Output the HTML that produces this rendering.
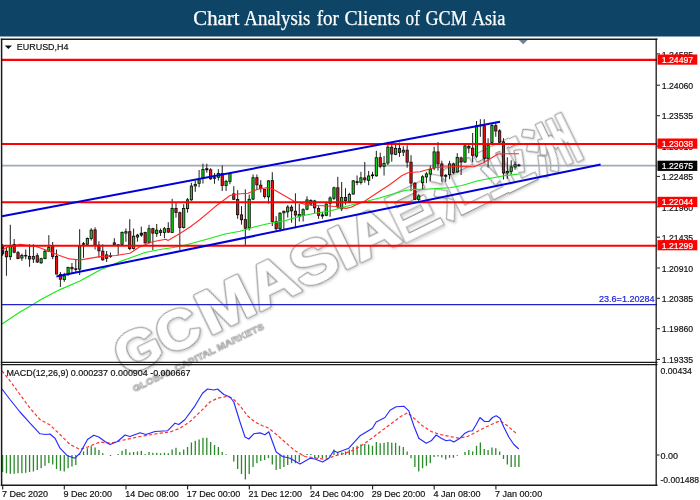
<!DOCTYPE html>
<html lang="en"><head><meta charset="utf-8"><title>Chart Analysis for Clients of GCM Asia</title>
<style>html,body{margin:0;padding:0;background:#fff;}body{width:700px;height:500px;overflow:hidden;}svg{display:block;}.t{font-family:"Liberation Sans",sans-serif;font-size:9px;fill:#111;stroke:#111;stroke-width:0.18px;}.h{font-family:"Liberation Serif",serif;font-size:20px;fill:#fff;}.w{font-family:"Liberation Sans","Noto Sans CJK SC",sans-serif;}</style></head><body>
<svg width="700" height="500" viewBox="0 0 700 500">
<defs><filter id="b" x="-5%" y="-5%" width="110%" height="110%"><feGaussianBlur stdDeviation="0.35"/></filter><filter id="b2" x="-5%" y="-5%" width="110%" height="110%"><feGaussianBlur stdDeviation="0.5"/></filter><filter id="b3" x="-5%" y="-5%" width="110%" height="110%"><feGaussianBlur stdDeviation="1.1"/></filter><clipPath id="cp"><rect x="2.3" y="40" width="654" height="322"/></clipPath></defs>
<rect x="0" y="0" width="700" height="500" fill="#fff"/>
<g class="w" filter="url(#b3)" transform="translate(124,378.7) rotate(-26)" fill="none" stroke="#d9d9d9" stroke-linejoin="round" font-weight="bold"><g stroke-width="4.6"><text y="0"><tspan x="3" font-size="55" textLength="88" lengthAdjust="spacingAndGlyphs">GC</tspan><tspan x="96" font-size="61" textLength="216" lengthAdjust="spacingAndGlyphs">MASIA</tspan></text></g><g stroke-width="2.8"><text x="307" y="-0.5" font-size="56" textLength="206" lengthAdjust="spacingAndGlyphs">巨汇亚洲</text></g></g>
<g class="w" filter="url(#b2)" transform="translate(123,377.7) rotate(-26)" stroke-linejoin="round" font-weight="bold"><g fill="none" stroke="#9a9a9a" stroke-width="3.5"><text y="0"><tspan x="3" font-size="55" textLength="88" lengthAdjust="spacingAndGlyphs">GC</tspan><tspan x="96" font-size="61" textLength="216" lengthAdjust="spacingAndGlyphs">MASIA</tspan></text></g><g fill="#fff" stroke="#fff" stroke-width="1.3"><text y="0"><tspan x="3" font-size="55" textLength="88" lengthAdjust="spacingAndGlyphs">GC</tspan><tspan x="96" font-size="61" textLength="216" lengthAdjust="spacingAndGlyphs">MASIA</tspan></text></g><g fill="none" stroke="#939393" stroke-width="2.4"><text x="307" y="-0.5" font-size="56" textLength="206" lengthAdjust="spacingAndGlyphs">巨汇亚洲</text></g><g fill="#fff" stroke="#fff" stroke-width="0.2"><text x="307" y="-0.5" font-size="56" textLength="206" lengthAdjust="spacingAndGlyphs">巨汇亚洲</text></g></g>
<g class="w" filter="url(#b)" transform="translate(123,377.7) rotate(-26)" fill="#ffffff" stroke="#acacac" stroke-width="0.9" stroke-linejoin="round" font-weight="bold"><text x="4" y="18" font-size="9.5" textLength="145" lengthAdjust="spacingAndGlyphs">GLOBAL CAPITAL MARKETS</text></g>
<rect x="0" y="0" width="700" height="36.5" fill="#0e4466"/>
<text class="h" y="24.9" stroke="#fff" stroke-width="0.25"><tspan x="193.3" textLength="46.1" lengthAdjust="spacingAndGlyphs">Chart</tspan> <tspan x="244.3" textLength="66.1" lengthAdjust="spacingAndGlyphs">Analysis</tspan> <tspan x="316.7" textLength="22.2" lengthAdjust="spacingAndGlyphs">for</tspan> <tspan x="344.4" textLength="55.9" lengthAdjust="spacingAndGlyphs">Clients</tspan> <tspan x="405.6" textLength="14.3" lengthAdjust="spacingAndGlyphs">of</tspan> <tspan x="425.5" textLength="41.3" lengthAdjust="spacingAndGlyphs">GCM</tspan> <tspan x="471.7" textLength="33.7" lengthAdjust="spacingAndGlyphs">Asia</tspan></text>
<g filter="url(#b)">
<line x1="2" y1="165.6" x2="657" y2="165.6" stroke="#a0abb7" stroke-width="1.6"/>
<line x1="2.60" y1="244.0" x2="2.60" y2="256.0" stroke="#151515" stroke-width="0.95"/>
<rect x="1.48" y="246.2" width="2.24" height="7.6" fill="#111" stroke="#0c0c0c" stroke-width="0.85"/>
<line x1="6.45" y1="247.3" x2="6.45" y2="275.8" stroke="#151515" stroke-width="0.95"/>
<rect x="5.33" y="251.2" width="2.24" height="5.6" fill="#f20a0a" stroke="#0c0c0c" stroke-width="0.85"/>
<line x1="10.31" y1="224.8" x2="10.31" y2="260.0" stroke="#151515" stroke-width="0.95"/>
<rect x="9.19" y="245.9" width="2.24" height="10.8" fill="#08d808" stroke="#0c0c0c" stroke-width="0.85"/>
<line x1="14.16" y1="239.0" x2="14.16" y2="253.2" stroke="#151515" stroke-width="0.95"/>
<rect x="13.04" y="244.4" width="2.24" height="7.8" fill="#f20a0a" stroke="#0c0c0c" stroke-width="0.85"/>
<line x1="18.01" y1="251.0" x2="18.01" y2="259.2" stroke="#151515" stroke-width="0.95"/>
<rect x="16.89" y="252.7" width="2.24" height="5.9" fill="#f20a0a" stroke="#0c0c0c" stroke-width="0.85"/>
<line x1="21.87" y1="253.7" x2="21.87" y2="260.8" stroke="#151515" stroke-width="0.95"/>
<rect x="20.75" y="255.4" width="2.24" height="2.6" fill="#08d808" stroke="#0c0c0c" stroke-width="0.85"/>
<line x1="25.72" y1="249.5" x2="25.72" y2="259.2" stroke="#151515" stroke-width="0.95"/>
<rect x="24.60" y="255.4" width="2.24" height="0.6" fill="#111" stroke="#0c0c0c" stroke-width="0.85"/>
<line x1="29.57" y1="244.2" x2="29.57" y2="266.8" stroke="#151515" stroke-width="0.95"/>
<rect x="28.45" y="256.4" width="2.24" height="2.6" fill="#f20a0a" stroke="#0c0c0c" stroke-width="0.85"/>
<line x1="33.42" y1="244.2" x2="33.42" y2="263.0" stroke="#151515" stroke-width="0.95"/>
<rect x="32.30" y="256.4" width="2.24" height="2.6" fill="#08d808" stroke="#0c0c0c" stroke-width="0.85"/>
<line x1="37.28" y1="253.2" x2="37.28" y2="263.0" stroke="#151515" stroke-width="0.95"/>
<rect x="36.16" y="255.7" width="2.24" height="6.3" fill="#f20a0a" stroke="#0c0c0c" stroke-width="0.85"/>
<line x1="41.13" y1="257.8" x2="41.13" y2="263.8" stroke="#151515" stroke-width="0.95"/>
<rect x="40.01" y="258.7" width="2.24" height="4.1" fill="#08d808" stroke="#0c0c0c" stroke-width="0.85"/>
<line x1="44.98" y1="249.5" x2="44.98" y2="259.2" stroke="#151515" stroke-width="0.95"/>
<rect x="43.86" y="251.2" width="2.24" height="7.4" fill="#08d808" stroke="#0c0c0c" stroke-width="0.85"/>
<line x1="48.84" y1="235.2" x2="48.84" y2="251.8" stroke="#151515" stroke-width="0.95"/>
<rect x="47.72" y="247.4" width="2.24" height="3.9" fill="#08d808" stroke="#0c0c0c" stroke-width="0.85"/>
<line x1="52.69" y1="242.0" x2="52.69" y2="259.2" stroke="#151515" stroke-width="0.95"/>
<rect x="51.57" y="246.7" width="2.24" height="9.8" fill="#f20a0a" stroke="#0c0c0c" stroke-width="0.85"/>
<line x1="56.54" y1="249.5" x2="56.54" y2="274.2" stroke="#151515" stroke-width="0.95"/>
<rect x="55.42" y="256.4" width="2.24" height="17.6" fill="#f20a0a" stroke="#0c0c0c" stroke-width="0.85"/>
<line x1="60.40" y1="272.0" x2="60.40" y2="287.0" stroke="#151515" stroke-width="0.95"/>
<rect x="59.28" y="274.4" width="2.24" height="4.8" fill="#f20a0a" stroke="#0c0c0c" stroke-width="0.85"/>
<line x1="64.25" y1="272.8" x2="64.25" y2="281.8" stroke="#151515" stroke-width="0.95"/>
<rect x="63.13" y="275.9" width="2.24" height="3.7" fill="#08d808" stroke="#0c0c0c" stroke-width="0.85"/>
<line x1="68.10" y1="266.8" x2="68.10" y2="275.8" stroke="#151515" stroke-width="0.95"/>
<rect x="66.98" y="267.4" width="2.24" height="6.7" fill="#08d808" stroke="#0c0c0c" stroke-width="0.85"/>
<line x1="71.95" y1="263.0" x2="71.95" y2="273.5" stroke="#151515" stroke-width="0.95"/>
<rect x="70.83" y="267.4" width="2.24" height="1.4" fill="#f20a0a" stroke="#0c0c0c" stroke-width="0.85"/>
<line x1="75.81" y1="259.2" x2="75.81" y2="272.0" stroke="#151515" stroke-width="0.95"/>
<rect x="74.69" y="268.8" width="2.24" height="0.6" fill="#111" stroke="#0c0c0c" stroke-width="0.85"/>
<line x1="79.66" y1="229.2" x2="79.66" y2="275.0" stroke="#151515" stroke-width="0.95"/>
<rect x="78.54" y="246.7" width="2.24" height="22.4" fill="#08d808" stroke="#0c0c0c" stroke-width="0.85"/>
<line x1="83.51" y1="242.0" x2="83.51" y2="257.8" stroke="#151515" stroke-width="0.95"/>
<rect x="82.39" y="243.7" width="2.24" height="0.6" fill="#111" stroke="#0c0c0c" stroke-width="0.85"/>
<line x1="87.37" y1="237.5" x2="87.37" y2="245.0" stroke="#151515" stroke-width="0.95"/>
<rect x="86.25" y="238.4" width="2.24" height="5.8" fill="#08d808" stroke="#0c0c0c" stroke-width="0.85"/>
<line x1="91.22" y1="228.2" x2="91.22" y2="240.5" stroke="#151515" stroke-width="0.95"/>
<rect x="90.10" y="230.2" width="2.24" height="8.3" fill="#08d808" stroke="#0c0c0c" stroke-width="0.85"/>
<line x1="95.07" y1="227.3" x2="95.07" y2="249.5" stroke="#151515" stroke-width="0.95"/>
<rect x="93.95" y="229.9" width="2.24" height="14.9" fill="#f20a0a" stroke="#0c0c0c" stroke-width="0.85"/>
<line x1="98.92" y1="241.2" x2="98.92" y2="257.8" stroke="#151515" stroke-width="0.95"/>
<rect x="97.80" y="245.2" width="2.24" height="5.6" fill="#f20a0a" stroke="#0c0c0c" stroke-width="0.85"/>
<line x1="102.78" y1="244.2" x2="102.78" y2="260.8" stroke="#151515" stroke-width="0.95"/>
<rect x="101.66" y="251.2" width="2.24" height="8.6" fill="#f20a0a" stroke="#0c0c0c" stroke-width="0.85"/>
<line x1="106.63" y1="251.0" x2="106.63" y2="262.0" stroke="#151515" stroke-width="0.95"/>
<rect x="105.51" y="254.9" width="2.24" height="3.4" fill="#f20a0a" stroke="#0c0c0c" stroke-width="0.85"/>
<line x1="110.48" y1="252.5" x2="110.48" y2="257.8" stroke="#151515" stroke-width="0.95"/>
<rect x="109.36" y="255.7" width="2.24" height="0.8" fill="#111" stroke="#0c0c0c" stroke-width="0.85"/>
<line x1="114.34" y1="238.2" x2="114.34" y2="245.0" stroke="#151515" stroke-width="0.95"/>
<rect x="113.22" y="242.9" width="2.24" height="1.5" fill="#f20a0a" stroke="#0c0c0c" stroke-width="0.85"/>
<line x1="118.19" y1="244.2" x2="118.19" y2="254.8" stroke="#151515" stroke-width="0.95"/>
<rect x="117.07" y="244.8" width="2.24" height="0.6" fill="#111" stroke="#0c0c0c" stroke-width="0.85"/>
<line x1="122.04" y1="231.5" x2="122.04" y2="245.0" stroke="#151515" stroke-width="0.95"/>
<rect x="120.92" y="232.4" width="2.24" height="12.0" fill="#08d808" stroke="#0c0c0c" stroke-width="0.85"/>
<line x1="125.90" y1="228.5" x2="125.90" y2="241.7" stroke="#151515" stroke-width="0.95"/>
<rect x="124.78" y="231.7" width="2.24" height="1.4" fill="#08d808" stroke="#0c0c0c" stroke-width="0.85"/>
<line x1="129.75" y1="219.2" x2="129.75" y2="250.2" stroke="#151515" stroke-width="0.95"/>
<rect x="128.63" y="231.7" width="2.24" height="16.9" fill="#f20a0a" stroke="#0c0c0c" stroke-width="0.85"/>
<line x1="133.60" y1="228.5" x2="133.60" y2="249.5" stroke="#151515" stroke-width="0.95"/>
<rect x="132.48" y="236.2" width="2.24" height="12.3" fill="#08d808" stroke="#0c0c0c" stroke-width="0.85"/>
<line x1="137.46" y1="233.8" x2="137.46" y2="241.7" stroke="#151515" stroke-width="0.95"/>
<rect x="136.34" y="235.2" width="2.24" height="1.8" fill="#08d808" stroke="#0c0c0c" stroke-width="0.85"/>
<line x1="141.31" y1="226.7" x2="141.31" y2="236.8" stroke="#151515" stroke-width="0.95"/>
<rect x="140.19" y="233.2" width="2.24" height="1.9" fill="#111" stroke="#0c0c0c" stroke-width="0.85"/>
<line x1="145.16" y1="231.8" x2="145.16" y2="243.5" stroke="#151515" stroke-width="0.95"/>
<rect x="144.04" y="232.4" width="2.24" height="10.5" fill="#f20a0a" stroke="#0c0c0c" stroke-width="0.85"/>
<line x1="149.01" y1="224.8" x2="149.01" y2="242.8" stroke="#151515" stroke-width="0.95"/>
<rect x="147.89" y="228.7" width="2.24" height="13.6" fill="#08d808" stroke="#0c0c0c" stroke-width="0.85"/>
<line x1="152.87" y1="227.8" x2="152.87" y2="250.2" stroke="#151515" stroke-width="0.95"/>
<rect x="151.75" y="228.7" width="2.24" height="4.4" fill="#f20a0a" stroke="#0c0c0c" stroke-width="0.85"/>
<line x1="156.72" y1="224.0" x2="156.72" y2="236.8" stroke="#151515" stroke-width="0.95"/>
<rect x="155.60" y="230.2" width="2.24" height="3.4" fill="#08d808" stroke="#0c0c0c" stroke-width="0.85"/>
<line x1="160.57" y1="228.5" x2="160.57" y2="236.0" stroke="#151515" stroke-width="0.95"/>
<rect x="159.45" y="230.7" width="2.24" height="1.8" fill="#f20a0a" stroke="#0c0c0c" stroke-width="0.85"/>
<line x1="164.43" y1="227.0" x2="164.43" y2="238.2" stroke="#151515" stroke-width="0.95"/>
<rect x="163.31" y="228.7" width="2.24" height="3.8" fill="#08d808" stroke="#0c0c0c" stroke-width="0.85"/>
<line x1="168.28" y1="222.2" x2="168.28" y2="233.0" stroke="#151515" stroke-width="0.95"/>
<rect x="167.16" y="228.4" width="2.24" height="3.7" fill="#f20a0a" stroke="#0c0c0c" stroke-width="0.85"/>
<line x1="172.13" y1="198.8" x2="172.13" y2="233.0" stroke="#151515" stroke-width="0.95"/>
<rect x="171.01" y="208.4" width="2.24" height="24.0" fill="#08d808" stroke="#0c0c0c" stroke-width="0.85"/>
<line x1="175.99" y1="203.0" x2="175.99" y2="217.7" stroke="#151515" stroke-width="0.95"/>
<rect x="174.87" y="208.4" width="2.24" height="4.1" fill="#f20a0a" stroke="#0c0c0c" stroke-width="0.85"/>
<line x1="179.84" y1="211.7" x2="179.84" y2="249.8" stroke="#151515" stroke-width="0.95"/>
<rect x="178.72" y="212.7" width="2.24" height="14.8" fill="#f20a0a" stroke="#0c0c0c" stroke-width="0.85"/>
<line x1="183.69" y1="204.2" x2="183.69" y2="228.5" stroke="#151515" stroke-width="0.95"/>
<rect x="182.57" y="208.4" width="2.24" height="19.1" fill="#08d808" stroke="#0c0c0c" stroke-width="0.85"/>
<line x1="187.54" y1="198.0" x2="187.54" y2="212.6" stroke="#151515" stroke-width="0.95"/>
<rect x="186.42" y="199.8" width="2.24" height="8.8" fill="#08d808" stroke="#0c0c0c" stroke-width="0.85"/>
<line x1="191.40" y1="182.8" x2="191.40" y2="200.8" stroke="#151515" stroke-width="0.95"/>
<rect x="190.28" y="186.1" width="2.24" height="13.7" fill="#08d808" stroke="#0c0c0c" stroke-width="0.85"/>
<line x1="195.25" y1="180.5" x2="195.25" y2="191.8" stroke="#151515" stroke-width="0.95"/>
<rect x="194.13" y="184.4" width="2.24" height="1.5" fill="#08d808" stroke="#0c0c0c" stroke-width="0.85"/>
<line x1="199.10" y1="170.0" x2="199.10" y2="187.2" stroke="#151515" stroke-width="0.95"/>
<rect x="197.98" y="179.9" width="2.24" height="3.4" fill="#08d808" stroke="#0c0c0c" stroke-width="0.85"/>
<line x1="202.96" y1="163.7" x2="202.96" y2="183.5" stroke="#151515" stroke-width="0.95"/>
<rect x="201.84" y="169.4" width="2.24" height="8.6" fill="#08d808" stroke="#0c0c0c" stroke-width="0.85"/>
<line x1="206.81" y1="163.7" x2="206.81" y2="172.7" stroke="#151515" stroke-width="0.95"/>
<rect x="205.69" y="168.7" width="2.24" height="1.1" fill="#111" stroke="#0c0c0c" stroke-width="0.85"/>
<line x1="210.66" y1="168.2" x2="210.66" y2="179.8" stroke="#151515" stroke-width="0.95"/>
<rect x="209.54" y="169.9" width="2.24" height="8.9" fill="#f20a0a" stroke="#0c0c0c" stroke-width="0.85"/>
<line x1="214.52" y1="173.0" x2="214.52" y2="183.8" stroke="#151515" stroke-width="0.95"/>
<rect x="213.40" y="177.7" width="2.24" height="0.6" fill="#111" stroke="#0c0c0c" stroke-width="0.85"/>
<line x1="218.37" y1="169.2" x2="218.37" y2="180.5" stroke="#151515" stroke-width="0.95"/>
<rect x="217.25" y="173.5" width="2.24" height="3.8" fill="#08d808" stroke="#0c0c0c" stroke-width="0.85"/>
<line x1="222.22" y1="165.5" x2="222.22" y2="191.0" stroke="#151515" stroke-width="0.95"/>
<rect x="221.10" y="173.5" width="2.24" height="12.0" fill="#f20a0a" stroke="#0c0c0c" stroke-width="0.85"/>
<line x1="226.07" y1="179.8" x2="226.07" y2="191.0" stroke="#151515" stroke-width="0.95"/>
<rect x="224.95" y="181.4" width="2.24" height="4.1" fill="#08d808" stroke="#0c0c0c" stroke-width="0.85"/>
<line x1="229.93" y1="172.7" x2="229.93" y2="184.2" stroke="#151515" stroke-width="0.95"/>
<rect x="228.81" y="173.5" width="2.24" height="8.0" fill="#08d808" stroke="#0c0c0c" stroke-width="0.85"/>
<line x1="233.78" y1="186.2" x2="233.78" y2="200.0" stroke="#151515" stroke-width="0.95"/>
<rect x="232.66" y="193.9" width="2.24" height="5.4" fill="#f20a0a" stroke="#0c0c0c" stroke-width="0.85"/>
<line x1="237.63" y1="190.2" x2="237.63" y2="218.8" stroke="#151515" stroke-width="0.95"/>
<rect x="236.51" y="199.4" width="2.24" height="15.3" fill="#f20a0a" stroke="#0c0c0c" stroke-width="0.85"/>
<line x1="241.49" y1="206.1" x2="241.49" y2="224.6" stroke="#151515" stroke-width="0.95"/>
<rect x="240.37" y="214.9" width="2.24" height="4.8" fill="#f20a0a" stroke="#0c0c0c" stroke-width="0.85"/>
<line x1="245.34" y1="189.4" x2="245.34" y2="245.5" stroke="#151515" stroke-width="0.95"/>
<rect x="244.22" y="219.6" width="2.24" height="8.6" fill="#f20a0a" stroke="#0c0c0c" stroke-width="0.85"/>
<line x1="249.19" y1="194.6" x2="249.19" y2="230.5" stroke="#151515" stroke-width="0.95"/>
<rect x="248.07" y="199.3" width="2.24" height="28.6" fill="#08d808" stroke="#0c0c0c" stroke-width="0.85"/>
<line x1="253.05" y1="174.5" x2="253.05" y2="200.0" stroke="#151515" stroke-width="0.95"/>
<rect x="251.93" y="177.7" width="2.24" height="21.4" fill="#08d808" stroke="#0c0c0c" stroke-width="0.85"/>
<line x1="256.90" y1="174.5" x2="256.90" y2="189.5" stroke="#151515" stroke-width="0.95"/>
<rect x="255.78" y="177.7" width="2.24" height="7.1" fill="#f20a0a" stroke="#0c0c0c" stroke-width="0.85"/>
<line x1="260.75" y1="180.2" x2="260.75" y2="192.5" stroke="#151515" stroke-width="0.95"/>
<rect x="259.63" y="185.2" width="2.24" height="3.4" fill="#f20a0a" stroke="#0c0c0c" stroke-width="0.85"/>
<line x1="264.60" y1="188.8" x2="264.60" y2="198.5" stroke="#151515" stroke-width="0.95"/>
<rect x="263.48" y="189.4" width="2.24" height="7.1" fill="#f20a0a" stroke="#0c0c0c" stroke-width="0.85"/>
<line x1="268.46" y1="180.2" x2="268.46" y2="203.6" stroke="#151515" stroke-width="0.95"/>
<rect x="267.34" y="180.9" width="2.24" height="15.9" fill="#08d808" stroke="#0c0c0c" stroke-width="0.85"/>
<line x1="272.31" y1="172.2" x2="272.31" y2="226.1" stroke="#151515" stroke-width="0.95"/>
<rect x="271.19" y="180.6" width="2.24" height="40.8" fill="#f20a0a" stroke="#0c0c0c" stroke-width="0.85"/>
<line x1="276.16" y1="216.2" x2="276.16" y2="230.6" stroke="#151515" stroke-width="0.95"/>
<rect x="275.04" y="221.6" width="2.24" height="7.1" fill="#f20a0a" stroke="#0c0c0c" stroke-width="0.85"/>
<line x1="280.02" y1="212.2" x2="280.02" y2="231.5" stroke="#151515" stroke-width="0.95"/>
<rect x="278.90" y="213.2" width="2.24" height="15.5" fill="#08d808" stroke="#0c0c0c" stroke-width="0.85"/>
<line x1="283.87" y1="210.6" x2="283.87" y2="229.9" stroke="#151515" stroke-width="0.95"/>
<rect x="282.75" y="211.3" width="2.24" height="1.5" fill="#08d808" stroke="#0c0c0c" stroke-width="0.85"/>
<line x1="287.72" y1="205.1" x2="287.72" y2="217.5" stroke="#151515" stroke-width="0.95"/>
<rect x="286.60" y="207.1" width="2.24" height="4.8" fill="#08d808" stroke="#0c0c0c" stroke-width="0.85"/>
<line x1="291.58" y1="205.0" x2="291.58" y2="222.7" stroke="#151515" stroke-width="0.95"/>
<rect x="290.46" y="207.2" width="2.24" height="3.6" fill="#f20a0a" stroke="#0c0c0c" stroke-width="0.85"/>
<line x1="295.43" y1="193.3" x2="295.43" y2="228.2" stroke="#151515" stroke-width="0.95"/>
<rect x="294.31" y="211.2" width="2.24" height="3.8" fill="#f20a0a" stroke="#0c0c0c" stroke-width="0.85"/>
<line x1="299.28" y1="203.8" x2="299.28" y2="221.5" stroke="#151515" stroke-width="0.95"/>
<rect x="298.16" y="214.5" width="2.24" height="2.0" fill="#f20a0a" stroke="#0c0c0c" stroke-width="0.85"/>
<line x1="303.13" y1="208.3" x2="303.13" y2="221.5" stroke="#151515" stroke-width="0.95"/>
<rect x="302.01" y="209.7" width="2.24" height="5.9" fill="#08d808" stroke="#0c0c0c" stroke-width="0.85"/>
<line x1="306.99" y1="196.3" x2="306.99" y2="210.2" stroke="#151515" stroke-width="0.95"/>
<rect x="305.87" y="199.9" width="2.24" height="9.3" fill="#08d808" stroke="#0c0c0c" stroke-width="0.85"/>
<line x1="310.84" y1="199.3" x2="310.84" y2="205.0" stroke="#151515" stroke-width="0.95"/>
<rect x="309.72" y="200.4" width="2.24" height="3.7" fill="#08d808" stroke="#0c0c0c" stroke-width="0.85"/>
<line x1="314.69" y1="199.8" x2="314.69" y2="213.2" stroke="#151515" stroke-width="0.95"/>
<rect x="313.57" y="201.0" width="2.24" height="6.8" fill="#f20a0a" stroke="#0c0c0c" stroke-width="0.85"/>
<line x1="318.55" y1="206.2" x2="318.55" y2="218.8" stroke="#151515" stroke-width="0.95"/>
<rect x="317.43" y="208.5" width="2.24" height="6.8" fill="#f20a0a" stroke="#0c0c0c" stroke-width="0.85"/>
<line x1="322.40" y1="211.8" x2="322.40" y2="218.8" stroke="#151515" stroke-width="0.95"/>
<rect x="321.28" y="214.9" width="2.24" height="1.1" fill="#111" stroke="#0c0c0c" stroke-width="0.85"/>
<line x1="326.25" y1="203.2" x2="326.25" y2="216.2" stroke="#151515" stroke-width="0.95"/>
<rect x="325.13" y="204.0" width="2.24" height="11.3" fill="#08d808" stroke="#0c0c0c" stroke-width="0.85"/>
<line x1="330.11" y1="196.3" x2="330.11" y2="216.7" stroke="#151515" stroke-width="0.95"/>
<rect x="328.99" y="198.0" width="2.24" height="5.3" fill="#08d808" stroke="#0c0c0c" stroke-width="0.85"/>
<line x1="333.96" y1="186.7" x2="333.96" y2="200.0" stroke="#151515" stroke-width="0.95"/>
<rect x="332.84" y="187.8" width="2.24" height="10.5" fill="#08d808" stroke="#0c0c0c" stroke-width="0.85"/>
<line x1="337.81" y1="176.8" x2="337.81" y2="208.6" stroke="#151515" stroke-width="0.95"/>
<rect x="336.69" y="187.8" width="2.24" height="19.1" fill="#f20a0a" stroke="#0c0c0c" stroke-width="0.85"/>
<line x1="341.66" y1="182.0" x2="341.66" y2="211.0" stroke="#151515" stroke-width="0.95"/>
<rect x="340.54" y="197.6" width="2.24" height="11.2" fill="#08d808" stroke="#0c0c0c" stroke-width="0.85"/>
<line x1="345.52" y1="188.2" x2="345.52" y2="204.8" stroke="#151515" stroke-width="0.95"/>
<rect x="344.40" y="197.4" width="2.24" height="3.4" fill="#f20a0a" stroke="#0c0c0c" stroke-width="0.85"/>
<line x1="349.37" y1="192.8" x2="349.37" y2="203.2" stroke="#151515" stroke-width="0.95"/>
<rect x="348.25" y="194.4" width="2.24" height="7.1" fill="#08d808" stroke="#0c0c0c" stroke-width="0.85"/>
<line x1="353.22" y1="180.0" x2="353.22" y2="194.7" stroke="#151515" stroke-width="0.95"/>
<rect x="352.10" y="180.9" width="2.24" height="13.1" fill="#08d808" stroke="#0c0c0c" stroke-width="0.85"/>
<line x1="357.08" y1="175.5" x2="357.08" y2="185.2" stroke="#151515" stroke-width="0.95"/>
<rect x="355.96" y="181.7" width="2.24" height="0.8" fill="#111" stroke="#0c0c0c" stroke-width="0.85"/>
<line x1="360.93" y1="171.8" x2="360.93" y2="184.5" stroke="#151515" stroke-width="0.95"/>
<rect x="359.81" y="177.9" width="2.24" height="4.5" fill="#08d808" stroke="#0c0c0c" stroke-width="0.85"/>
<line x1="364.78" y1="162.0" x2="364.78" y2="182.7" stroke="#151515" stroke-width="0.95"/>
<rect x="363.66" y="177.9" width="2.24" height="1.9" fill="#f20a0a" stroke="#0c0c0c" stroke-width="0.85"/>
<line x1="368.64" y1="171.0" x2="368.64" y2="185.2" stroke="#151515" stroke-width="0.95"/>
<rect x="367.52" y="176.0" width="2.24" height="4.3" fill="#08d808" stroke="#0c0c0c" stroke-width="0.85"/>
<line x1="372.49" y1="171.8" x2="372.49" y2="178.8" stroke="#151515" stroke-width="0.95"/>
<rect x="371.37" y="174.9" width="2.24" height="0.8" fill="#111" stroke="#0c0c0c" stroke-width="0.85"/>
<line x1="376.34" y1="150.8" x2="376.34" y2="176.7" stroke="#151515" stroke-width="0.95"/>
<rect x="375.22" y="157.7" width="2.24" height="18.1" fill="#08d808" stroke="#0c0c0c" stroke-width="0.85"/>
<line x1="380.19" y1="152.7" x2="380.19" y2="168.3" stroke="#151515" stroke-width="0.95"/>
<rect x="379.07" y="157.7" width="2.24" height="8.6" fill="#f20a0a" stroke="#0c0c0c" stroke-width="0.85"/>
<line x1="384.05" y1="156.0" x2="384.05" y2="175.5" stroke="#151515" stroke-width="0.95"/>
<rect x="382.93" y="163.4" width="2.24" height="2.9" fill="#08d808" stroke="#0c0c0c" stroke-width="0.85"/>
<line x1="387.90" y1="141.8" x2="387.90" y2="165.0" stroke="#151515" stroke-width="0.95"/>
<rect x="386.78" y="147.2" width="2.24" height="15.8" fill="#08d808" stroke="#0c0c0c" stroke-width="0.85"/>
<line x1="391.75" y1="144.8" x2="391.75" y2="161.7" stroke="#151515" stroke-width="0.95"/>
<rect x="390.63" y="147.2" width="2.24" height="6.8" fill="#f20a0a" stroke="#0c0c0c" stroke-width="0.85"/>
<line x1="395.61" y1="143.2" x2="395.61" y2="155.2" stroke="#151515" stroke-width="0.95"/>
<rect x="394.49" y="148.4" width="2.24" height="5.9" fill="#08d808" stroke="#0c0c0c" stroke-width="0.85"/>
<line x1="399.46" y1="142.5" x2="399.46" y2="156.8" stroke="#151515" stroke-width="0.95"/>
<rect x="398.34" y="148.4" width="2.24" height="4.1" fill="#f20a0a" stroke="#0c0c0c" stroke-width="0.85"/>
<line x1="403.31" y1="146.2" x2="403.31" y2="156.0" stroke="#151515" stroke-width="0.95"/>
<rect x="402.19" y="150.2" width="2.24" height="1.9" fill="#08d808" stroke="#0c0c0c" stroke-width="0.85"/>
<line x1="407.17" y1="145.2" x2="407.17" y2="167.7" stroke="#151515" stroke-width="0.95"/>
<rect x="406.05" y="150.2" width="2.24" height="11.9" fill="#f20a0a" stroke="#0c0c0c" stroke-width="0.85"/>
<line x1="411.02" y1="155.2" x2="411.02" y2="191.2" stroke="#151515" stroke-width="0.95"/>
<rect x="409.90" y="162.2" width="2.24" height="20.9" fill="#f20a0a" stroke="#0c0c0c" stroke-width="0.85"/>
<line x1="414.87" y1="182.2" x2="414.87" y2="200.2" stroke="#151515" stroke-width="0.95"/>
<rect x="413.75" y="183.2" width="2.24" height="16.1" fill="#f20a0a" stroke="#0c0c0c" stroke-width="0.85"/>
<line x1="418.72" y1="194.2" x2="418.72" y2="201.0" stroke="#151515" stroke-width="0.95"/>
<rect x="417.60" y="195.9" width="2.24" height="3.7" fill="#08d808" stroke="#0c0c0c" stroke-width="0.85"/>
<line x1="422.58" y1="175.2" x2="422.58" y2="190.0" stroke="#151515" stroke-width="0.95"/>
<rect x="421.46" y="176.8" width="2.24" height="5.9" fill="#08d808" stroke="#0c0c0c" stroke-width="0.85"/>
<line x1="426.43" y1="172.2" x2="426.43" y2="183.1" stroke="#151515" stroke-width="0.95"/>
<rect x="425.31" y="173.9" width="2.24" height="3.0" fill="#08d808" stroke="#0c0c0c" stroke-width="0.85"/>
<line x1="430.28" y1="165.5" x2="430.28" y2="180.9" stroke="#151515" stroke-width="0.95"/>
<rect x="429.16" y="169.3" width="2.24" height="4.8" fill="#08d808" stroke="#0c0c0c" stroke-width="0.85"/>
<line x1="434.14" y1="146.8" x2="434.14" y2="170.2" stroke="#151515" stroke-width="0.95"/>
<rect x="433.02" y="151.9" width="2.24" height="16.1" fill="#08d808" stroke="#0c0c0c" stroke-width="0.85"/>
<line x1="437.99" y1="142.0" x2="437.99" y2="170.5" stroke="#151515" stroke-width="0.95"/>
<rect x="436.87" y="151.9" width="2.24" height="12.0" fill="#f20a0a" stroke="#0c0c0c" stroke-width="0.85"/>
<line x1="441.84" y1="160.8" x2="441.84" y2="181.8" stroke="#151515" stroke-width="0.95"/>
<rect x="440.72" y="163.9" width="2.24" height="12.0" fill="#f20a0a" stroke="#0c0c0c" stroke-width="0.85"/>
<line x1="445.70" y1="174.2" x2="445.70" y2="181.8" stroke="#151515" stroke-width="0.95"/>
<rect x="444.58" y="175.2" width="2.24" height="1.1" fill="#111" stroke="#0c0c0c" stroke-width="0.85"/>
<line x1="449.55" y1="160.8" x2="449.55" y2="179.2" stroke="#151515" stroke-width="0.95"/>
<rect x="448.43" y="163.9" width="2.24" height="10.8" fill="#08d808" stroke="#0c0c0c" stroke-width="0.85"/>
<line x1="453.40" y1="162.7" x2="453.40" y2="174.2" stroke="#151515" stroke-width="0.95"/>
<rect x="452.28" y="163.9" width="2.24" height="8.6" fill="#f20a0a" stroke="#0c0c0c" stroke-width="0.85"/>
<line x1="457.25" y1="153.2" x2="457.25" y2="172.8" stroke="#151515" stroke-width="0.95"/>
<rect x="456.13" y="157.5" width="2.24" height="14.3" fill="#08d808" stroke="#0c0c0c" stroke-width="0.85"/>
<line x1="461.11" y1="156.7" x2="461.11" y2="175.0" stroke="#151515" stroke-width="0.95"/>
<rect x="459.99" y="157.9" width="2.24" height="4.1" fill="#f20a0a" stroke="#0c0c0c" stroke-width="0.85"/>
<line x1="464.96" y1="145.0" x2="464.96" y2="163.0" stroke="#151515" stroke-width="0.95"/>
<rect x="463.84" y="145.9" width="2.24" height="16.1" fill="#08d808" stroke="#0c0c0c" stroke-width="0.85"/>
<line x1="468.81" y1="145.0" x2="468.81" y2="153.2" stroke="#151515" stroke-width="0.95"/>
<rect x="467.69" y="146.4" width="2.24" height="1.7" fill="#f20a0a" stroke="#0c0c0c" stroke-width="0.85"/>
<line x1="472.67" y1="133.0" x2="472.67" y2="162.2" stroke="#151515" stroke-width="0.95"/>
<rect x="471.55" y="148.2" width="2.24" height="7.1" fill="#f20a0a" stroke="#0c0c0c" stroke-width="0.85"/>
<line x1="476.52" y1="121.0" x2="476.52" y2="157.8" stroke="#151515" stroke-width="0.95"/>
<rect x="475.40" y="125.7" width="2.24" height="30.4" fill="#08d808" stroke="#0c0c0c" stroke-width="0.85"/>
<line x1="480.37" y1="119.2" x2="480.37" y2="136.8" stroke="#151515" stroke-width="0.95"/>
<rect x="479.25" y="125.2" width="2.24" height="0.6" fill="#111" stroke="#0c0c0c" stroke-width="0.85"/>
<line x1="484.23" y1="119.2" x2="484.23" y2="163.0" stroke="#151515" stroke-width="0.95"/>
<rect x="483.11" y="125.7" width="2.24" height="32.6" fill="#f20a0a" stroke="#0c0c0c" stroke-width="0.85"/>
<line x1="488.08" y1="138.2" x2="488.08" y2="167.5" stroke="#151515" stroke-width="0.95"/>
<rect x="486.96" y="145.2" width="2.24" height="13.1" fill="#08d808" stroke="#0c0c0c" stroke-width="0.85"/>
<line x1="491.93" y1="124.0" x2="491.93" y2="143.5" stroke="#151515" stroke-width="0.95"/>
<rect x="490.81" y="125.4" width="2.24" height="17.1" fill="#08d808" stroke="#0c0c0c" stroke-width="0.85"/>
<line x1="495.78" y1="122.8" x2="495.78" y2="136.8" stroke="#151515" stroke-width="0.95"/>
<rect x="494.66" y="125.7" width="2.24" height="5.3" fill="#f20a0a" stroke="#0c0c0c" stroke-width="0.85"/>
<line x1="499.64" y1="129.2" x2="499.64" y2="142.8" stroke="#151515" stroke-width="0.95"/>
<rect x="498.52" y="130.9" width="2.24" height="11.2" fill="#f20a0a" stroke="#0c0c0c" stroke-width="0.85"/>
<line x1="503.49" y1="138.2" x2="503.49" y2="179.5" stroke="#151515" stroke-width="0.95"/>
<rect x="502.37" y="141.9" width="2.24" height="31.1" fill="#f20a0a" stroke="#0c0c0c" stroke-width="0.85"/>
<line x1="507.34" y1="157.3" x2="507.34" y2="178.8" stroke="#151515" stroke-width="0.95"/>
<rect x="506.22" y="171.4" width="2.24" height="1.5" fill="#08d808" stroke="#0c0c0c" stroke-width="0.85"/>
<line x1="511.20" y1="160.3" x2="511.20" y2="174.2" stroke="#151515" stroke-width="0.95"/>
<rect x="510.08" y="166.9" width="2.24" height="4.5" fill="#08d808" stroke="#0c0c0c" stroke-width="0.85"/>
<line x1="515.05" y1="161.5" x2="515.05" y2="169.8" stroke="#151515" stroke-width="0.95"/>
<rect x="513.93" y="164.7" width="2.24" height="2.3" fill="#08d808" stroke="#0c0c0c" stroke-width="0.85"/>
<line x1="518.90" y1="163.8" x2="518.90" y2="166.8" stroke="#151515" stroke-width="0.95"/>
<rect x="517.78" y="165.0" width="2.24" height="0.6" fill="#111" stroke="#0c0c0c" stroke-width="0.85"/>
<polyline points="2.0,324.0 20.0,312.0 33.0,304.4 40.0,300.0 60.0,289.6 80.0,281.0 100.0,270.0 120.0,261.6 128.5,258.5 145.0,252.5 160.0,249.5 175.0,247.2 185.5,245.0 205.0,239.8 225.0,234.0 240.0,231.2 255.0,226.8 270.0,223.3 285.0,220.8 300.0,216.2 315.0,213.2 330.0,211.0 339.0,208.5 349.5,205.5 364.5,201.8 379.5,198.0 394.5,193.5 405.0,190.5 414.0,189.4 426.0,189.3 435.0,188.6 450.0,187.8 462.0,185.5 477.0,181.0 492.0,178.0 504.0,175.8 519.0,174.0" fill="none" stroke="#18e818" stroke-width="1.15" stroke-linejoin="round" />
<polyline points="2.0,250.0 8.0,247.0 20.0,244.4 36.0,246.4 46.0,250.0 58.0,255.0 68.0,258.6 80.0,260.0 88.0,258.6 100.0,256.6 116.0,255.5 130.0,253.2 139.0,247.2 152.5,241.7 166.0,239.3 168.0,240.5 179.5,233.8 190.0,227.0 200.0,219.5 215.0,206.8 230.0,195.5 237.5,194.0 248.0,193.2 257.0,189.5 266.0,187.7 270.0,188.0 274.5,190.0 285.0,196.0 294.0,201.2 304.5,204.2 312.0,205.5 324.0,205.8 336.0,206.5 341.0,207.6 346.0,208.4 351.0,207.2 357.0,204.6 364.5,201.3 375.0,194.2 390.0,184.5 402.0,175.5 408.0,172.8 420.0,171.8 435.0,167.5 450.0,166.8 465.0,166.5 474.0,166.8 483.0,163.0 490.5,158.5 498.0,154.0 504.0,153.7 519.0,153.7" fill="none" stroke="#ff2a2a" stroke-width="1.1" stroke-linejoin="round" />
<line x1="2" y1="304.6" x2="657" y2="304.6" stroke="#2020c8" stroke-width="1.25"/>
<line x1="2" y1="59.9" x2="657" y2="59.9" stroke="#ff0000" stroke-width="2.1"/>
<line x1="2" y1="144.0" x2="657" y2="144.0" stroke="#ff0000" stroke-width="2.1"/>
<line x1="2" y1="202.3" x2="657" y2="202.3" stroke="#ff0000" stroke-width="2.1"/>
<line x1="2" y1="245.8" x2="657" y2="245.8" stroke="#ff0000" stroke-width="2.1"/>
<line x1="2" y1="216.2" x2="500" y2="121.8" stroke="#0404d8" stroke-width="2.0"/>
<line x1="56.4" y1="276.6" x2="600.6" y2="164.6" stroke="#0404d8" stroke-width="2.0"/>
</g>
<g filter="url(#b)">
<rect x="1.95" y="455.0" width="1.3" height="17.0" fill="#2a8a2a"/>
<rect x="5.80" y="455.0" width="1.3" height="18.2" fill="#2a8a2a"/>
<rect x="9.66" y="455.0" width="1.3" height="18.8" fill="#2a8a2a"/>
<rect x="13.51" y="455.0" width="1.3" height="18.8" fill="#2a8a2a"/>
<rect x="17.36" y="455.0" width="1.3" height="18.2" fill="#2a8a2a"/>
<rect x="21.22" y="455.0" width="1.3" height="18.2" fill="#2a8a2a"/>
<rect x="25.07" y="455.0" width="1.3" height="17.8" fill="#2a8a2a"/>
<rect x="28.92" y="455.0" width="1.3" height="17.0" fill="#2a8a2a"/>
<rect x="32.77" y="455.0" width="1.3" height="16.5" fill="#2a8a2a"/>
<rect x="36.63" y="455.0" width="1.3" height="15.0" fill="#2a8a2a"/>
<rect x="40.48" y="455.0" width="1.3" height="13.2" fill="#2a8a2a"/>
<rect x="44.33" y="455.0" width="1.3" height="10.8" fill="#2a8a2a"/>
<rect x="48.19" y="455.0" width="1.3" height="8.2" fill="#2a8a2a"/>
<rect x="52.04" y="455.0" width="1.3" height="9.5" fill="#2a8a2a"/>
<rect x="55.89" y="455.0" width="1.3" height="14.0" fill="#2a8a2a"/>
<rect x="59.75" y="455.0" width="1.3" height="15.8" fill="#2a8a2a"/>
<rect x="63.60" y="455.0" width="1.3" height="16.5" fill="#2a8a2a"/>
<rect x="67.45" y="455.0" width="1.3" height="13.2" fill="#2a8a2a"/>
<rect x="71.30" y="455.0" width="1.3" height="11.5" fill="#2a8a2a"/>
<rect x="75.16" y="455.0" width="1.3" height="10.0" fill="#2a8a2a"/>
<rect x="79.01" y="454.0" width="1.3" height="1.0" fill="#2a8a2a"/>
<rect x="82.86" y="451.5" width="1.3" height="3.5" fill="#2a8a2a"/>
<rect x="86.72" y="448.2" width="1.3" height="6.8" fill="#2a8a2a"/>
<rect x="90.57" y="446.2" width="1.3" height="8.8" fill="#2a8a2a"/>
<rect x="94.42" y="447.5" width="1.3" height="7.5" fill="#2a8a2a"/>
<rect x="98.27" y="450.0" width="1.3" height="5.0" fill="#2a8a2a"/>
<rect x="102.13" y="453.2" width="1.3" height="1.8" fill="#2a8a2a"/>
<rect x="109.83" y="455.0" width="1.3" height="1.0" fill="#2a8a2a"/>
<rect x="117.54" y="454.0" width="1.3" height="1.0" fill="#2a8a2a"/>
<rect x="121.39" y="450.8" width="1.3" height="4.2" fill="#2a8a2a"/>
<rect x="125.25" y="449.0" width="1.3" height="6.0" fill="#2a8a2a"/>
<rect x="129.10" y="452.5" width="1.3" height="2.5" fill="#2a8a2a"/>
<rect x="132.95" y="452.0" width="1.3" height="3.0" fill="#2a8a2a"/>
<rect x="136.81" y="451.5" width="1.3" height="3.5" fill="#2a8a2a"/>
<rect x="140.66" y="450.8" width="1.3" height="4.2" fill="#2a8a2a"/>
<rect x="144.51" y="454.0" width="1.3" height="1.0" fill="#2a8a2a"/>
<rect x="148.36" y="452.0" width="1.3" height="3.0" fill="#2a8a2a"/>
<rect x="152.22" y="452.8" width="1.3" height="2.2" fill="#2a8a2a"/>
<rect x="156.07" y="452.8" width="1.3" height="2.2" fill="#2a8a2a"/>
<rect x="159.92" y="453.2" width="1.3" height="1.8" fill="#2a8a2a"/>
<rect x="163.78" y="452.8" width="1.3" height="2.2" fill="#2a8a2a"/>
<rect x="167.63" y="453.2" width="1.3" height="1.8" fill="#2a8a2a"/>
<rect x="171.48" y="449.5" width="1.3" height="5.5" fill="#2a8a2a"/>
<rect x="175.34" y="447.8" width="1.3" height="7.2" fill="#2a8a2a"/>
<rect x="179.19" y="452.0" width="1.3" height="3.0" fill="#2a8a2a"/>
<rect x="183.04" y="449.5" width="1.3" height="5.5" fill="#2a8a2a"/>
<rect x="186.89" y="447.0" width="1.3" height="8.0" fill="#2a8a2a"/>
<rect x="190.75" y="442.5" width="1.3" height="12.5" fill="#2a8a2a"/>
<rect x="194.60" y="440.8" width="1.3" height="14.2" fill="#2a8a2a"/>
<rect x="198.45" y="439.5" width="1.3" height="15.5" fill="#2a8a2a"/>
<rect x="202.31" y="437.8" width="1.3" height="17.2" fill="#2a8a2a"/>
<rect x="206.16" y="437.8" width="1.3" height="17.2" fill="#2a8a2a"/>
<rect x="210.01" y="442.0" width="1.3" height="13.0" fill="#2a8a2a"/>
<rect x="213.87" y="445.0" width="1.3" height="10.0" fill="#2a8a2a"/>
<rect x="217.72" y="447.0" width="1.3" height="8.0" fill="#2a8a2a"/>
<rect x="221.57" y="452.0" width="1.3" height="3.0" fill="#2a8a2a"/>
<rect x="225.42" y="454.3" width="1.3" height="0.7" fill="#2a8a2a"/>
<rect x="233.13" y="455.0" width="1.3" height="6.5" fill="#2a8a2a"/>
<rect x="236.98" y="455.0" width="1.3" height="14.0" fill="#2a8a2a"/>
<rect x="240.84" y="455.0" width="1.3" height="19.0" fill="#2a8a2a"/>
<rect x="244.69" y="455.0" width="1.3" height="24.5" fill="#2a8a2a"/>
<rect x="248.54" y="455.0" width="1.3" height="19.0" fill="#2a8a2a"/>
<rect x="252.40" y="455.0" width="1.3" height="12.0" fill="#2a8a2a"/>
<rect x="256.25" y="455.0" width="1.3" height="8.2" fill="#2a8a2a"/>
<rect x="260.10" y="455.0" width="1.3" height="6.0" fill="#2a8a2a"/>
<rect x="263.95" y="455.0" width="1.3" height="5.0" fill="#2a8a2a"/>
<rect x="267.81" y="455.0" width="1.3" height="3.2" fill="#2a8a2a"/>
<rect x="271.66" y="455.0" width="1.3" height="9.5" fill="#2a8a2a"/>
<rect x="275.51" y="455.0" width="1.3" height="15.0" fill="#2a8a2a"/>
<rect x="279.37" y="455.0" width="1.3" height="14.0" fill="#2a8a2a"/>
<rect x="283.22" y="455.0" width="1.3" height="12.0" fill="#2a8a2a"/>
<rect x="287.07" y="455.0" width="1.3" height="10.0" fill="#2a8a2a"/>
<rect x="290.93" y="455.0" width="1.3" height="8.2" fill="#2a8a2a"/>
<rect x="294.78" y="455.0" width="1.3" height="8.2" fill="#2a8a2a"/>
<rect x="298.63" y="455.0" width="1.3" height="7.0" fill="#2a8a2a"/>
<rect x="302.48" y="455.0" width="1.3" height="1.3" fill="#2a8a2a"/>
<rect x="306.34" y="454.0" width="1.3" height="1.0" fill="#2a8a2a"/>
<rect x="310.19" y="454.0" width="1.3" height="1.0" fill="#2a8a2a"/>
<rect x="314.04" y="455.0" width="1.3" height="3.0" fill="#2a8a2a"/>
<rect x="317.90" y="455.0" width="1.3" height="2.8" fill="#2a8a2a"/>
<rect x="321.75" y="455.0" width="1.3" height="3.2" fill="#2a8a2a"/>
<rect x="325.60" y="455.0" width="1.3" height="2.8" fill="#2a8a2a"/>
<rect x="329.46" y="455.0" width="1.3" height="1.5" fill="#2a8a2a"/>
<rect x="333.31" y="449.5" width="1.3" height="5.5" fill="#2a8a2a"/>
<rect x="337.16" y="452.0" width="1.3" height="3.0" fill="#2a8a2a"/>
<rect x="341.01" y="452.5" width="1.3" height="2.5" fill="#2a8a2a"/>
<rect x="344.87" y="451.5" width="1.3" height="3.5" fill="#2a8a2a"/>
<rect x="348.72" y="449.5" width="1.3" height="5.5" fill="#2a8a2a"/>
<rect x="352.57" y="447.0" width="1.3" height="8.0" fill="#2a8a2a"/>
<rect x="356.43" y="445.8" width="1.3" height="9.2" fill="#2a8a2a"/>
<rect x="360.28" y="444.5" width="1.3" height="10.5" fill="#2a8a2a"/>
<rect x="364.13" y="444.0" width="1.3" height="11.0" fill="#2a8a2a"/>
<rect x="367.99" y="444.5" width="1.3" height="10.5" fill="#2a8a2a"/>
<rect x="371.84" y="445.8" width="1.3" height="9.2" fill="#2a8a2a"/>
<rect x="375.69" y="442.0" width="1.3" height="13.0" fill="#2a8a2a"/>
<rect x="379.54" y="443.2" width="1.3" height="11.8" fill="#2a8a2a"/>
<rect x="383.40" y="442.8" width="1.3" height="12.2" fill="#2a8a2a"/>
<rect x="387.25" y="442.0" width="1.3" height="13.0" fill="#2a8a2a"/>
<rect x="391.10" y="442.6" width="1.3" height="12.4" fill="#2a8a2a"/>
<rect x="394.96" y="442.8" width="1.3" height="12.2" fill="#2a8a2a"/>
<rect x="398.81" y="445.8" width="1.3" height="9.2" fill="#2a8a2a"/>
<rect x="402.66" y="447.0" width="1.3" height="8.0" fill="#2a8a2a"/>
<rect x="406.52" y="451.5" width="1.3" height="3.5" fill="#2a8a2a"/>
<rect x="410.37" y="455.0" width="1.3" height="3.2" fill="#2a8a2a"/>
<rect x="414.22" y="455.0" width="1.3" height="12.0" fill="#2a8a2a"/>
<rect x="418.07" y="455.0" width="1.3" height="16.5" fill="#2a8a2a"/>
<rect x="421.93" y="455.0" width="1.3" height="13.2" fill="#2a8a2a"/>
<rect x="425.78" y="455.0" width="1.3" height="10.8" fill="#2a8a2a"/>
<rect x="429.63" y="455.0" width="1.3" height="8.2" fill="#2a8a2a"/>
<rect x="433.49" y="455.0" width="1.3" height="2.0" fill="#2a8a2a"/>
<rect x="437.34" y="455.0" width="1.3" height="1.5" fill="#2a8a2a"/>
<rect x="441.19" y="455.0" width="1.3" height="2.5" fill="#2a8a2a"/>
<rect x="445.05" y="455.0" width="1.3" height="4.5" fill="#2a8a2a"/>
<rect x="448.90" y="455.0" width="1.3" height="2.8" fill="#2a8a2a"/>
<rect x="452.75" y="455.0" width="1.3" height="2.8" fill="#2a8a2a"/>
<rect x="456.60" y="455.0" width="1.3" height="0.8" fill="#2a8a2a"/>
<rect x="464.31" y="452.0" width="1.3" height="3.0" fill="#2a8a2a"/>
<rect x="468.16" y="450.0" width="1.3" height="5.0" fill="#2a8a2a"/>
<rect x="472.02" y="451.5" width="1.3" height="3.5" fill="#2a8a2a"/>
<rect x="475.87" y="445.8" width="1.3" height="9.2" fill="#2a8a2a"/>
<rect x="479.72" y="442.5" width="1.3" height="12.5" fill="#2a8a2a"/>
<rect x="483.58" y="449.0" width="1.3" height="6.0" fill="#2a8a2a"/>
<rect x="487.43" y="450.0" width="1.3" height="5.0" fill="#2a8a2a"/>
<rect x="491.28" y="447.5" width="1.3" height="7.5" fill="#2a8a2a"/>
<rect x="495.13" y="448.2" width="1.3" height="6.8" fill="#2a8a2a"/>
<rect x="498.99" y="451.5" width="1.3" height="3.5" fill="#2a8a2a"/>
<rect x="502.84" y="455.0" width="1.3" height="4.0" fill="#2a8a2a"/>
<rect x="506.69" y="455.0" width="1.3" height="9.5" fill="#2a8a2a"/>
<rect x="510.55" y="455.0" width="1.3" height="12.0" fill="#2a8a2a"/>
<rect x="514.40" y="455.0" width="1.3" height="12.0" fill="#2a8a2a"/>
<rect x="518.25" y="455.0" width="1.3" height="12.0" fill="#2a8a2a"/>
<polyline points="2.0,370.8 10.0,380.8 20.0,394.5 30.0,408.2 40.0,419.5 50.0,425.0 60.0,434.5 70.0,444.5 80.0,449.5 87.5,447.0 100.0,442.0 110.0,443.2 120.0,440.8 130.0,438.6 140.0,436.5 155.0,434.0 170.0,432.0 180.0,428.2 190.0,421.5 200.0,412.0 210.0,402.0 217.5,398.2 226.2,396.5 232.5,398.2 240.0,405.8 247.5,415.8 255.0,422.0 262.5,425.8 267.5,427.5 275.0,433.2 285.0,442.0 295.0,450.8 305.0,456.5 315.0,457.8 325.0,459.5 335.0,455.8 345.0,453.2 355.0,449.5 365.0,443.2 375.0,435.8 385.0,428.2 395.0,420.8 400.0,417.0 407.5,412.8 415.0,419.0 422.5,425.8 431.2,431.5 440.0,434.5 450.0,436.5 458.8,438.2 467.5,436.5 476.2,432.0 485.0,427.5 492.5,424.0 500.0,420.8 507.5,425.8 517.5,434.5" fill="none" stroke="#ff3030" stroke-width="1.2" stroke-linejoin="round" stroke-dasharray="3.2 2.2"/>
<polyline points="2.0,389.0 10.0,399.5 20.0,412.0 30.0,423.2 40.0,433.8 46.0,434.5 50.0,434.0 55.0,438.2 60.0,448.2 67.5,455.8 75.0,458.2 80.0,453.2 87.5,439.5 93.8,435.2 98.8,437.0 105.0,441.5 110.0,444.5 117.5,441.5 125.0,435.0 130.0,436.5 140.0,432.8 146.0,434.5 155.0,431.5 167.5,430.8 175.0,423.2 178.8,424.5 185.0,419.5 195.0,405.8 202.5,393.2 207.5,389.0 213.8,390.0 217.5,389.0 223.8,394.5 230.0,397.0 233.8,402.0 240.0,422.0 245.0,437.0 248.8,439.0 253.8,433.8 260.0,432.9 265.0,434.7 268.8,431.8 276.2,452.0 282.5,456.5 290.0,458.2 300.0,464.0 310.0,458.2 315.0,459.0 322.5,462.0 328.8,458.2 333.8,450.8 337.5,452.5 348.8,448.2 360.0,435.8 372.5,428.2 376.2,422.0 385.0,417.5 390.0,410.2 396.2,406.7 403.8,406.2 408.8,410.8 413.8,425.8 418.8,438.2 426.2,443.2 431.2,440.8 436.2,435.0 441.2,438.2 446.2,440.8 450.0,440.0 453.8,442.0 460.0,438.2 465.0,433.2 468.8,431.2 472.5,430.8 476.2,424.5 480.0,417.5 484.5,421.5 488.8,421.5 492.5,417.5 496.2,415.8 500.0,418.2 503.8,427.0 508.8,437.0 513.8,444.5 518.8,449.0" fill="none" stroke="#2a2aff" stroke-width="1.15" stroke-linejoin="round" />
</g>
<g stroke="#1a1a1a" fill="none">
<line x1="1.6" y1="38.5" x2="1.6" y2="486" stroke-width="1.5"/>
<line x1="0.8" y1="39.3" x2="657.5" y2="39.3" stroke-width="1.5"/>
<line x1="656.2" y1="38.5" x2="656.2" y2="486" stroke-width="1.3"/>
<line x1="0.8" y1="362.4" x2="657.5" y2="362.4" stroke-width="1.3"/>
<line x1="0.8" y1="364.6" x2="657.5" y2="364.6" stroke-width="1.3"/>
<line x1="0.8" y1="485.2" x2="657.5" y2="485.2" stroke-width="1.5"/>
</g>
<polygon points="518.8,40 527.6,40 523.2,44.2" fill="#6f8399"/>
<polygon points="4.7,45.5 12,45.5 8.35,49.1" fill="#111"/>
<text class="t" x="16.8" y="49.8" font-size="9" textLength="51.7" lengthAdjust="spacingAndGlyphs">EURUSD,H4</text>
<line x1="657" y1="53.9" x2="660" y2="53.9" stroke="#1a1a1a" stroke-width="1"/>
<text class="t" x="661.8" y="57.6" textLength="31.4" lengthAdjust="spacingAndGlyphs">1.24585</text>
<line x1="657" y1="85.2" x2="660" y2="85.2" stroke="#1a1a1a" stroke-width="1"/>
<text class="t" x="661.8" y="88.9" textLength="31.4" lengthAdjust="spacingAndGlyphs">1.24060</text>
<line x1="657" y1="115.7" x2="660" y2="115.7" stroke="#1a1a1a" stroke-width="1"/>
<text class="t" x="661.8" y="119.4" textLength="31.4" lengthAdjust="spacingAndGlyphs">1.23535</text>
<line x1="657" y1="146.1" x2="660" y2="146.1" stroke="#1a1a1a" stroke-width="1"/>
<text class="t" x="661.8" y="149.8" textLength="31.4" lengthAdjust="spacingAndGlyphs">1.23010</text>
<line x1="657" y1="176.4" x2="660" y2="176.4" stroke="#1a1a1a" stroke-width="1"/>
<text class="t" x="661.8" y="180.1" textLength="31.4" lengthAdjust="spacingAndGlyphs">1.22485</text>
<line x1="657" y1="206.8" x2="660" y2="206.8" stroke="#1a1a1a" stroke-width="1"/>
<text class="t" x="661.8" y="210.5" textLength="31.4" lengthAdjust="spacingAndGlyphs">1.21960</text>
<line x1="657" y1="237.20000000000002" x2="660" y2="237.20000000000002" stroke="#1a1a1a" stroke-width="1"/>
<text class="t" x="661.8" y="240.9" textLength="31.4" lengthAdjust="spacingAndGlyphs">1.21435</text>
<line x1="657" y1="268.0" x2="660" y2="268.0" stroke="#1a1a1a" stroke-width="1"/>
<text class="t" x="661.8" y="271.7" textLength="31.4" lengthAdjust="spacingAndGlyphs">1.20910</text>
<line x1="657" y1="298.29999999999995" x2="660" y2="298.29999999999995" stroke="#1a1a1a" stroke-width="1"/>
<text class="t" x="661.8" y="302.0" textLength="31.4" lengthAdjust="spacingAndGlyphs">1.20385</text>
<line x1="657" y1="328.7" x2="660" y2="328.7" stroke="#1a1a1a" stroke-width="1"/>
<text class="t" x="661.8" y="332.4" textLength="31.4" lengthAdjust="spacingAndGlyphs">1.19860</text>
<line x1="657" y1="359.4" x2="660" y2="359.4" stroke="#1a1a1a" stroke-width="1"/>
<text class="t" x="661.8" y="363.1" textLength="31.4" lengthAdjust="spacingAndGlyphs">1.19335</text>
<rect x="657.5" y="54.5" width="39.8" height="10.2" fill="#ff0000"/>
<text class="t" x="661.8" y="62.9" style="fill:#fff;stroke:#fff" textLength="31.4" lengthAdjust="spacingAndGlyphs">1.24497</text>
<rect x="657.5" y="138.5" width="39.8" height="10.2" fill="#ff0000"/>
<text class="t" x="661.8" y="146.9" style="fill:#fff;stroke:#fff" textLength="31.4" lengthAdjust="spacingAndGlyphs">1.23038</text>
<rect x="657.5" y="160.7" width="39.8" height="10.2" fill="#000000"/>
<text class="t" x="661.8" y="169.1" style="fill:#fff;stroke:#fff" textLength="31.4" lengthAdjust="spacingAndGlyphs">1.22675</text>
<rect x="657.5" y="196.8" width="39.8" height="10.2" fill="#ff0000"/>
<text class="t" x="661.8" y="205.2" style="fill:#fff;stroke:#fff" textLength="31.4" lengthAdjust="spacingAndGlyphs">1.22044</text>
<rect x="657.5" y="240.1" width="39.8" height="10.2" fill="#ff0000"/>
<text class="t" x="661.8" y="248.5" style="fill:#fff;stroke:#fff" textLength="31.4" lengthAdjust="spacingAndGlyphs">1.21299</text>
<text class="t" x="599" y="302" style="fill:#1c1cd8;stroke:#1c1cd8;stroke-width:0.2" textLength="55.6" lengthAdjust="spacingAndGlyphs">23.6=1.20284</text>
<text class="t" x="6.4" y="376.3" font-size="9" textLength="184" lengthAdjust="spacingAndGlyphs">MACD(12,26,9) 0.000237 0.000904 -0.000667</text>
<text class="t" x="660.5" y="374.3" textLength="31.4" lengthAdjust="spacingAndGlyphs">0.00434</text>
<text class="t" x="660.5" y="458.9" textLength="17.5" lengthAdjust="spacingAndGlyphs">0.00</text>
<text class="t" x="660.5" y="482.9" textLength="38.5" lengthAdjust="spacingAndGlyphs">-0.001488</text>
<line x1="657" y1="455" x2="659.5" y2="455" stroke="#1a1a1a" stroke-width="1"/>
<line x1="2.7" y1="485.5" x2="2.7" y2="489.5" stroke="#1a1a1a" stroke-width="1.1"/>
<text class="t" x="1.9" y="496.9" font-size="8.75">7 Dec 2020</text>
<line x1="64.3" y1="485.5" x2="64.3" y2="489.5" stroke="#1a1a1a" stroke-width="1.1"/>
<text class="t" x="63.5" y="496.9" font-size="8.75">9 Dec 20:00</text>
<line x1="126.0" y1="485.5" x2="126.0" y2="489.5" stroke="#1a1a1a" stroke-width="1.1"/>
<text class="t" x="125.2" y="496.9" font-size="8.75">14 Dec 08:00</text>
<line x1="187.6" y1="485.5" x2="187.6" y2="489.5" stroke="#1a1a1a" stroke-width="1.1"/>
<text class="t" x="186.8" y="496.9" font-size="8.75">17 Dec 00:00</text>
<line x1="249.3" y1="485.5" x2="249.3" y2="489.5" stroke="#1a1a1a" stroke-width="1.1"/>
<text class="t" x="248.5" y="496.9" font-size="8.75">21 Dec 12:00</text>
<line x1="310.9" y1="485.5" x2="310.9" y2="489.5" stroke="#1a1a1a" stroke-width="1.1"/>
<text class="t" x="310.1" y="496.9" font-size="8.75">24 Dec 04:00</text>
<line x1="372.6" y1="485.5" x2="372.6" y2="489.5" stroke="#1a1a1a" stroke-width="1.1"/>
<text class="t" x="371.8" y="496.9" font-size="8.75">29 Dec 20:00</text>
<line x1="434.2" y1="485.5" x2="434.2" y2="489.5" stroke="#1a1a1a" stroke-width="1.1"/>
<text class="t" x="433.4" y="496.9" font-size="8.75">4 Jan 08:00</text>
<line x1="495.9" y1="485.5" x2="495.9" y2="489.5" stroke="#1a1a1a" stroke-width="1.1"/>
<text class="t" x="495.1" y="496.9" font-size="8.75">7 Jan 00:00</text>
</svg></body></html>
